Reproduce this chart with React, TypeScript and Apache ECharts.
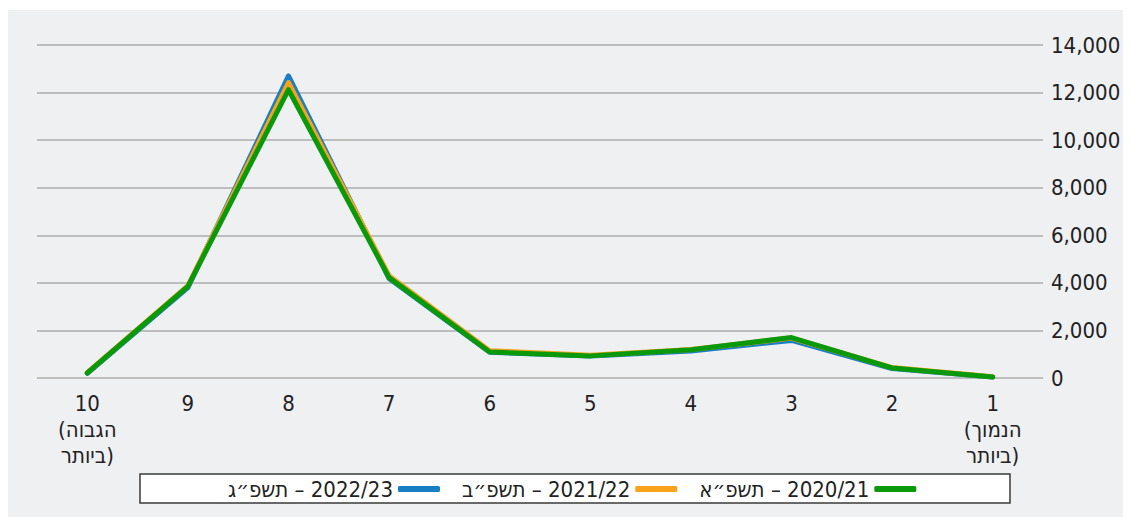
import React, { useEffect, useRef } from "react";
import * as echarts from "echarts";

const LRM = "\u200E";
const RLE = "\u202B";
const PDF = "\u202C";

const categories = [
  `10\n${LRM}(הגבוה${LRM}\n${LRM}ביותר)${LRM}`,
  "9",
  "8",
  "7",
  "6",
  "5",
  "4",
  "3",
  "2",
  `1\n${LRM}(הנמוך${LRM}\n${LRM}ביותר)${LRM}`,
];
const seriesNames = [`${RLE}2022/23 – תשפ״ג${PDF}`, `${RLE}2021/22 – תשפ״ב${PDF}`, `${RLE}2020/21 – תשפ״א${PDF}`];
const values2223 = [200, 3800, 12700, 4180, 1080, 920, 1130, 1580, 400, 40];
const values2122 = [230, 3880, 12420, 4300, 1150, 960, 1200, 1680, 440, 50];
const values2021 = [210, 3850, 12120, 4220, 1090, 930, 1190, 1700, 420, 40];
const yTicks = { min: 0, max: 14000, interval: 2000 };
const colors = ["#1a7ec2", "#f9a21b", "#0a990a"];

const FONT = '"Liberation Sans Narrow", "DejaVu Sans Condensed", "Liberation Sans", sans-serif';

export default function App() {
  const ref = useRef<HTMLDivElement>(null);
  useEffect(() => {
    if (!ref.current) return;
    const chart = echarts.init(ref.current, undefined, { renderer: "svg" });
    const data = [values2223, values2122, values2021];
    chart.setOption({
      animation: false,
      backgroundColor: "#eff0f2",
      textStyle: { fontFamily: FONT },
      grid: { left: 29, right: 88, top: 35, bottom: 139, containLabel: false },
      graphic: [
        {
          type: "rect",
          shape: { x: 132, y: 464, width: 870, height: 29 },
          style: { fill: "#ffffff", stroke: "#3a3a3a", lineWidth: 1.5 },
          z: 0,
        },
      ],
      legend: {
        left: 220,
        top: 466,
        padding: 0,
        align: "right",
        itemWidth: 42,
        itemHeight: 6,
        itemGap: 22,
        icon: "roundRect",
        data: seriesNames,
        textStyle: { fontFamily: FONT, fontSize: 22, color: "#222", lineHeight: 26 },
        z: 5,
      },
      xAxis: {
        type: "category",
        data: categories,
        boundaryGap: true,
        axisLine: { show: false },
        axisTick: { show: false },
        axisLabel: {
          fontFamily: FONT,
          fontSize: 22,
          color: "#222",
          lineHeight: 26,
          margin: 12,
          interval: 0,
        },
      },
      yAxis: {
        type: "value",
        position: "right",
        min: yTicks.min,
        max: yTicks.max,
        interval: yTicks.interval,
        axisLine: { show: false },
        axisTick: { show: false },
        splitLine: { lineStyle: { color: "#bdbdbd", width: 2 } },
        axisLabel: {
          fontFamily: FONT,
          fontSize: 22,
          color: "#222",
          margin: 8,
          formatter: (v: number) => v.toLocaleString("en-US"),
        },
      },
      series: seriesNames.map((name, i) => ({
        name,
        type: "line",
        data: data[i],
        showSymbol: false,
        symbol: "none",
        color: colors[i],
        lineStyle: { width: 5, color: colors[i], cap: "round", join: "round" },
        z: 2 + i,
      })),
    });
    return () => chart.dispose();
  }, []);
  return <div ref={ref} style={{ width: 1123, height: 507, marginTop: 2 }} />;
}
